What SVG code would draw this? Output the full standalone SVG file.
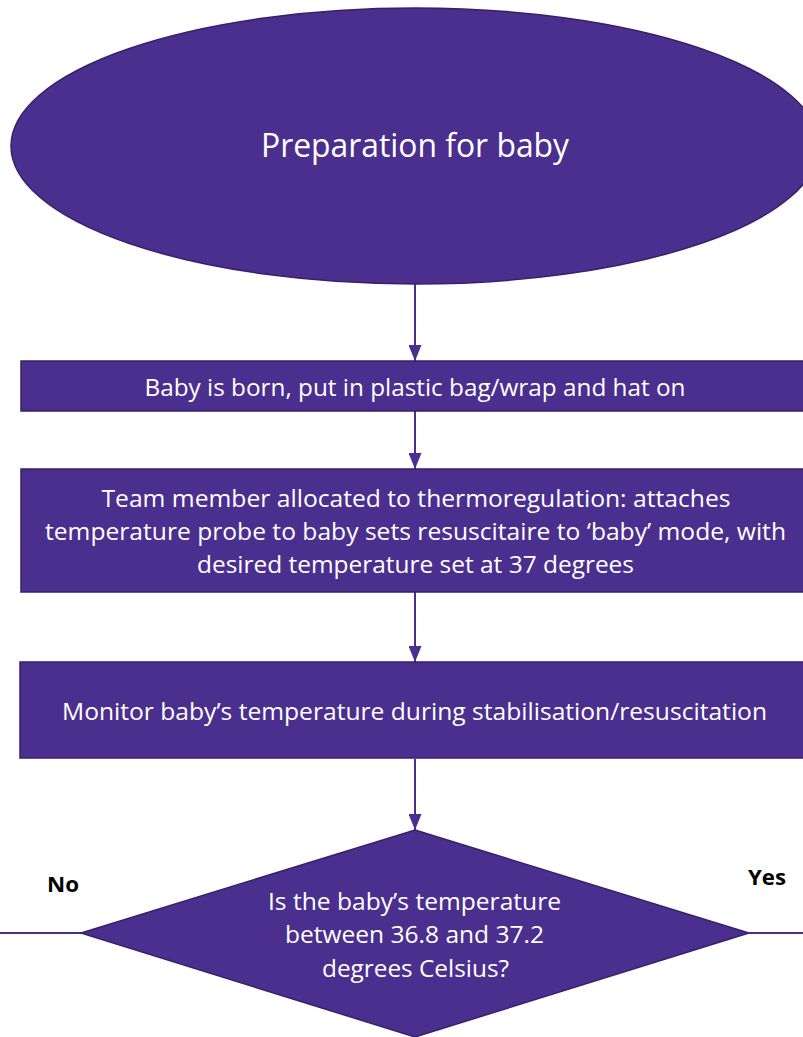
<svg xmlns="http://www.w3.org/2000/svg" width="803" height="1037" viewBox="0 0 803 1037">
  <style>
    .shape { fill: #4a2f8e; stroke: #36216c; stroke-width: 1.5; }
    .label { fill: #ffffff; font-family: "Open Sans", "Liberation Sans", sans-serif; font-size: 24px; text-anchor: middle; }
    .title { font-size: 32px; }
    .branch { fill: #000000; font-family: "Open Sans", "Liberation Sans", sans-serif; font-size: 22px; font-weight: bold; }
    .link { stroke: #4a2f8e; stroke-width: 2; fill: none; }
  </style>
  <defs>
    <marker id="arrow" markerWidth="16" markerHeight="13" refX="16" refY="6.5" orient="auto" markerUnits="userSpaceOnUse" viewBox="0 0 16 13">
      <path d="M0,0 L16,6.5 L0,13 Z" fill="#4a2f8e"/>
    </marker>
  </defs>
  <rect width="803" height="1037" fill="#ffffff"/>

  <!-- Connectors -->
  <g id="connectors">
    <line class="link" x1="415" y1="283" x2="415" y2="361" marker-end="url(#arrow)"/>
    <line class="link" x1="415" y1="411" x2="415" y2="469" marker-end="url(#arrow)"/>
    <line class="link" x1="415" y1="592" x2="415" y2="662" marker-end="url(#arrow)"/>
    <line class="link" x1="415" y1="759" x2="415" y2="830" marker-end="url(#arrow)"/>
    <line class="link" x1="81" y1="933" x2="0" y2="933"/>
    <line class="link" x1="749" y1="933" x2="803" y2="933"/>
  </g>

  <!-- Start: preparation -->
  <g id="node-start">
    <ellipse class="shape" cx="415" cy="146" rx="404" ry="138"/>
    <text class="label title" x="415" y="157" textLength="308" lengthAdjust="spacingAndGlyphs">Preparation for baby</text>
  </g>

  <!-- Step: birth -->
  <g id="node-born">
    <rect class="shape" x="21" y="361" width="800" height="50"/>
    <text class="label" x="415" y="396" textLength="541" lengthAdjust="spacingAndGlyphs">Baby is born, put in plastic bag/wrap and hat on</text>
  </g>

  <!-- Step: thermoregulation setup -->
  <g id="node-team">
    <rect class="shape" x="21" y="469" width="800" height="123"/>
    <text class="label" x="416" y="506.5" textLength="629" lengthAdjust="spacingAndGlyphs">Team member allocated to thermoregulation: attaches</text>
    <text class="label" x="415.5" y="539.5" textLength="741" lengthAdjust="spacingAndGlyphs">temperature probe to baby sets resuscitaire to ‘baby’ mode, with</text>
    <text class="label" x="415.5" y="573" textLength="437" lengthAdjust="spacingAndGlyphs">desired temperature set at 37 degrees</text>
  </g>

  <!-- Step: monitoring -->
  <g id="node-monitor">
    <rect class="shape" x="20" y="662" width="800" height="96"/>
    <text class="label" x="414.5" y="720" textLength="705" lengthAdjust="spacingAndGlyphs">Monitor baby’s temperature during stabilisation/resuscitation</text>
  </g>

  <!-- Decision -->
  <g id="node-decision">
    <polygon class="shape" points="415,830 749,933 415,1037 81,933"/>
    <text class="label" x="414.5" y="910" textLength="293" lengthAdjust="spacingAndGlyphs">Is the baby’s temperature</text>
    <text class="label" x="414.5" y="943" textLength="259" lengthAdjust="spacingAndGlyphs">between 36.8 and 37.2</text>
    <text class="label" x="415.5" y="977" textLength="187" lengthAdjust="spacingAndGlyphs">degrees Celsius?</text>
  </g>

  <!-- Branch labels -->
  <g id="branch-labels">
    <text class="branch" x="47" y="892" textLength="32" lengthAdjust="spacingAndGlyphs">No</text>
    <text class="branch" x="748" y="885" textLength="38" lengthAdjust="spacingAndGlyphs">Yes</text>
  </g>
</svg>
